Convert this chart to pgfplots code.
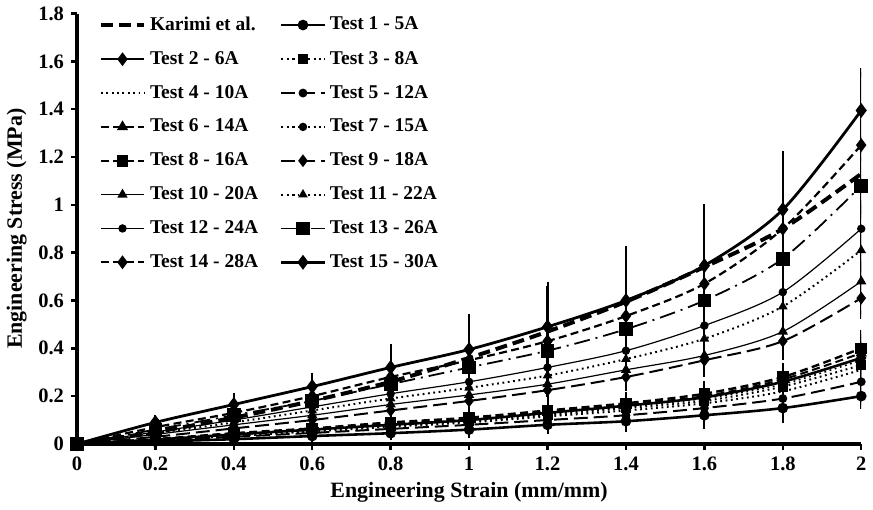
\documentclass[border=0pt]{standalone}
\usepackage{fontspec}
\setmainfont{Liberation Serif}
\usepackage{pgfplots}
\usepackage{pgfplotstable}
\pgfplotsset{compat=1.18}

% stress values (MPa)
\pgfplotstableread{
x    k     t1    t2    t3    t4    t5    t6    t7    t8    t9    t10   t11   t12   t13   t14   t15
0    0     0     0     0     0     0     0     0     0     0     0     0     0     0     0     0
0.2  0.05  0.010 0.018 0.017 0.016 0.014 0.020 0.018 0.020 0.030 0.040 0.045 0.050 0.060 0.070 0.090
0.4  0.11  0.020 0.040 0.035 0.033 0.030 0.040 0.038 0.045 0.065 0.080 0.090 0.100 0.120 0.130 0.165
0.6  0.18  0.033 0.060 0.055 0.052 0.046 0.060 0.058 0.065 0.100 0.120 0.140 0.155 0.180 0.200 0.240
0.8  0.26  0.045 0.080 0.075 0.072 0.063 0.085 0.080 0.090 0.140 0.165 0.190 0.210 0.250 0.280 0.320
1.0  0.36  0.060 0.100 0.095 0.090 0.080 0.105 0.100 0.110 0.180 0.205 0.235 0.260 0.320 0.350 0.395
1.2  0.47  0.080 0.130 0.120 0.115 0.100 0.135 0.125 0.140 0.225 0.250 0.286 0.320 0.390 0.430 0.490
1.4  0.595 0.095 0.160 0.150 0.140 0.120 0.165 0.155 0.170 0.280 0.310 0.355 0.390 0.480 0.535 0.600
1.6  0.74  0.120 0.195 0.180 0.170 0.150 0.200 0.190 0.210 0.350 0.370 0.440 0.495 0.600 0.670 0.746
1.8  0.90  0.150 0.260 0.240 0.220 0.190 0.270 0.250 0.280 0.430 0.470 0.575 0.635 0.775 0.900 0.980
2.0  1.13  0.200 0.360 0.330 0.310 0.260 0.380 0.350 0.400 0.610 0.680 0.810 0.900 1.080 1.250 1.395
}\stress

% standard deviations
\pgfplotstableread{
x    e1    e2    e3    e4    e5    e6    e7    e8    e9    e10   e11   e12   e13   e14   e15
0    0     0     0     0     0     0     0     0     0     0     0     0     0     0     0
0.2  0.003 0.004 0.003 0.003 0.003 0.004 0.003 0.004 0.005 0.005 0.005 0.006 0.007 0.008 0.012
0.4  0.006 0.008 0.006 0.005 0.005 0.008 0.006 0.008 0.010 0.010 0.010 0.012 0.014 0.016 0.030
0.6  0.010 0.012 0.010 0.008 0.008 0.012 0.010 0.012 0.015 0.015 0.015 0.018 0.020 0.025 0.040
0.8  0.012 0.015 0.012 0.010 0.010 0.015 0.012 0.016 0.020 0.020 0.020 0.025 0.030 0.035 0.080
1.0  0.015 0.020 0.015 0.012 0.012 0.020 0.015 0.020 0.025 0.025 0.030 0.030 0.040 0.045 0.130
1.2  0.020 0.025 0.020 0.015 0.015 0.025 0.020 0.025 0.030 0.030 0.035 0.040 0.050 0.055 0.170
1.4  0.025 0.030 0.025 0.020 0.020 0.030 0.025 0.030 0.040 0.040 0.045 0.050 0.060 0.070 0.210
1.6  0.040 0.035 0.030 0.025 0.025 0.035 0.030 0.035 0.050 0.050 0.050 0.060 0.080 0.090 0.240
1.8  0.045 0.040 0.035 0.030 0.030 0.040 0.035 0.040 0.060 0.060 0.070 0.080 0.100 0.110 0.225
2.0  0.035 0.050 0.040 0.035 0.030 0.050 0.040 0.060 0.070 0.080 0.090 0.100 0.120 0.020 0.160
}\errs

\pgfplotstablecreatecol[copy column from table={\errs}{e1}]{e1}\stress
\pgfplotstablecreatecol[copy column from table={\errs}{e2}]{e2}\stress
\pgfplotstablecreatecol[copy column from table={\errs}{e3}]{e3}\stress
\pgfplotstablecreatecol[copy column from table={\errs}{e4}]{e4}\stress
\pgfplotstablecreatecol[copy column from table={\errs}{e5}]{e5}\stress
\pgfplotstablecreatecol[copy column from table={\errs}{e6}]{e6}\stress
\pgfplotstablecreatecol[copy column from table={\errs}{e7}]{e7}\stress
\pgfplotstablecreatecol[copy column from table={\errs}{e8}]{e8}\stress
\pgfplotstablecreatecol[copy column from table={\errs}{e9}]{e9}\stress
\pgfplotstablecreatecol[copy column from table={\errs}{e10}]{e10}\stress
\pgfplotstablecreatecol[copy column from table={\errs}{e11}]{e11}\stress
\pgfplotstablecreatecol[copy column from table={\errs}{e12}]{e12}\stress
\pgfplotstablecreatecol[copy column from table={\errs}{e13}]{e13}\stress
\pgfplotstablecreatecol[copy column from table={\errs}{e14}]{e14}\stress
\pgfplotstablecreatecol[copy column from table={\errs}{e15}]{e15}\stress

\pgfplotsset{
  ser/.style={black, smooth, mark options={solid, fill=black, scale=1},
    error bars/y dir=both, error bars/y explicit,
    error bars/error bar style={solid, line width=1.1pt},
    error bars/error mark options={solid, black, mark size=2.2pt, line width=1pt}},
  dsh/.style={dash pattern=on 4pt off 2.2pt},
  ldsh/.style={dash pattern=on 7pt off 3pt},
  dts/.style={dash pattern=on 0.9pt off 1.8pt},
}

\begin{document}
\begin{tikzpicture}
\begin{axis}[
  scale only axis,
  width=13.85cm, height=7.6cm,
  xmin=0, xmax=2, ymin=0, ymax=1.8,
  xtick={0,0.2,...,2.01}, ytick={0,0.2,...,1.81},
  axis lines*=left,
  axis line style={line width=1.6pt},
  tick align=outside,
  major tick length=3pt,
  every tick/.style={black, line width=1.2pt},
  /pgf/number format/assume math mode=true,
  ticklabel style={font=\fontsize{10.3}{12}\bfseries},
  xlabel={Engineering Strain (mm/mm)},
  ylabel={Engineering Stress (MPa)},
  label style={font=\fontsize{11}{13}\bfseries},
  xlabel style={yshift=1pt},
  ylabel style={yshift=-1pt},
  legend columns=2,
  legend cell align=left,
  legend style={draw=none, fill=none, at={(0.02,1.012)}, anchor=north west,
    font=\fontsize{9.8}{11.5}\bfseries, row sep=5pt,
    /tikz/every even column/.append style={column sep=9pt}},
  legend image code/.code={\draw[mark repeat=2, mark phase=2, #1]
    plot coordinates {(0cm,0cm) (0.38cm,0cm) (0.76cm,0cm)};},
  legend image post style={mark options={solid, fill=black}},
]
\addplot[black, smooth, line width=2pt, dash pattern=on 6pt off 3pt] table[x=x, y=k] {\stress};
\addlegendentry{Karimi et al.}
\addplot[ser, line width=1.3pt, mark=*, mark size=2pt] table[x=x, y=t1, y error=e1] {\stress};
\addlegendentry{Test 1 - 5A}
\addplot[ser, line width=1.3pt, mark=diamond*, mark size=2.4pt] table[x=x, y=t2, y error=e2] {\stress};
\addlegendentry{Test 2 - 6A}
\addplot[ser, dts, line width=1pt, mark=square*, mark size=2pt] table[x=x, y=t3, y error=e3] {\stress};
\addlegendentry{Test 3 - 8A}
\addplot[ser, dts, line width=1pt, mark=none] table[x=x, y=t4, y error=e4] {\stress};
\addlegendentry{Test 4 - 10A}
\addplot[ser, ldsh, line width=1pt, mark=*, mark size=1.7pt] table[x=x, y=t5, y error=e5] {\stress};
\addlegendentry{Test 5 - 12A}
\addplot[ser, dsh, line width=1pt, mark=triangle*, mark size=2.3pt] table[x=x, y=t6, y error=e6] {\stress};
\addlegendentry{Test 6 - 14A}
\addplot[ser, dts, line width=0.8pt, mark=*, mark size=1.7pt] table[x=x, y=t7, y error=e7] {\stress};
\addlegendentry{Test 7 - 15A}
\addplot[ser, dsh, line width=1.2pt, mark=square*, mark size=2.3pt] table[x=x, y=t8, y error=e8] {\stress};
\addlegendentry{Test 8 - 16A}
\addplot[ser, ldsh, line width=1pt, mark=diamond*, mark size=2.4pt] table[x=x, y=t9, y error=e9] {\stress};
\addlegendentry{Test 9 - 18A}
\addplot[ser, line width=0.6pt, mark=triangle*, mark size=2.4pt] table[x=x, y=t10, y error=e10] {\stress};
\addlegendentry{Test 10 - 20A}
\addplot[ser, dts, line width=1pt, mark=triangle*, mark size=1.8pt] table[x=x, y=t11, y error=e11] {\stress};
\addlegendentry{Test 11 - 22A}
\addplot[ser, line width=0.6pt, mark=*, mark size=1.8pt] table[x=x, y=t12, y error=e12] {\stress};
\addlegendentry{Test 12 - 24A}
\addplot[ser, line width=0.9pt, dash pattern=on 8pt off 3pt on 1pt off 3pt, mark=square*, mark size=3pt] table[x=x, y=t13, y error=e13] {\stress};
\addlegendentry{Test 13 - 26A}
\addplot[ser, dsh, line width=1.1pt, mark=diamond*, mark size=2.6pt] table[x=x, y=t14, y error=e14] {\stress};
\addlegendentry{Test 14 - 28A}
\addplot[ser, line width=1.4pt, mark=diamond*, mark size=2.6pt] table[x=x, y=t15, y error=e15] {\stress};
\addlegendentry{Test 15 - 30A}
\end{axis}
\end{tikzpicture}
\end{document}
